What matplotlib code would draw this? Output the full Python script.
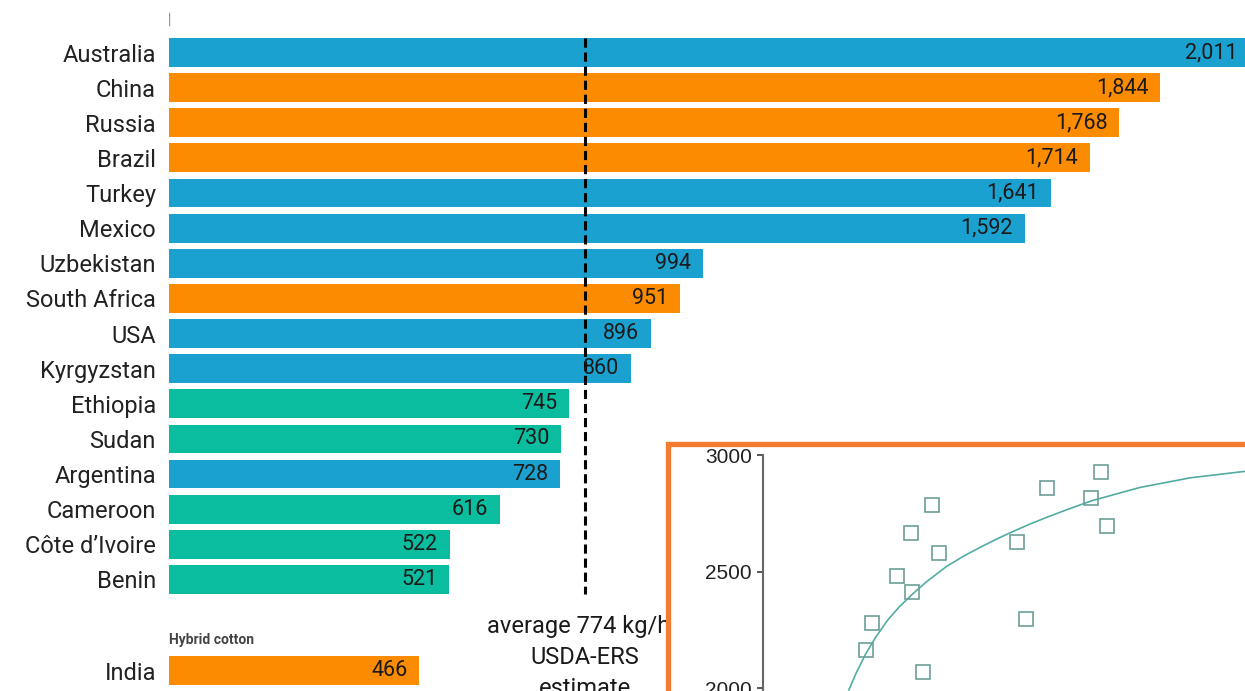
import matplotlib
matplotlib.use("Agg")
import matplotlib.pyplot as plt
from matplotlib.patches import Rectangle

# ---- Lint yield by country (kg/ha) ----
countries = ["Australia", "China", "Russia", "Brazil", "Turkey", "Mexico",
             "Uzbekistan", "South Africa", "USA", "Kyrgyzstan", "Ethiopia",
             "Sudan", "Argentina", "Cameroon", "Côte d’Ivoire", "Benin"]
yields = [2011, 1844, 1768, 1714, 1641, 1592, 994, 951, 896, 860,
          745, 730, 728, 616, 522, 521]
groups = ["blue", "orange", "orange", "orange", "blue", "blue",
          "blue", "orange", "blue", "blue", "teal",
          "teal", "blue", "teal", "teal", "teal"]

hybrid_title = "Hybrid cotton"
hybrid_country = "India"
hybrid_yield = 466
hybrid_group = "orange"

average_yield = 774
average_lines = ["average 774 kg/ha", "USDA-ERS", "estimate"]

# ---- Inset: yield response scatter with fitted curve ----
inset_x = [51.6, 54.4, 66.9, 74.0, 74.7, 80.0, 84.7, 88.2,
           126.9, 131.5, 142.2, 163.9, 169.0, 171.9]
inset_y = [2164, 2279, 2482, 2665, 2412, 2069, 2786, 2579,
           2626, 2297, 2857, 2815, 2928, 2696]
curve_x = [42.9, 46.5, 51.5, 56.5, 62.4, 68.2, 74.9, 81.5, 91.7, 100.2,
           108.5, 116.9, 125.2, 133.5, 141.9, 150.2, 158.5, 164.4, 188.5,
           213.5, 241.0]
curve_y = [1993, 2064, 2150, 2221, 2293, 2350, 2405, 2455, 2522, 2566,
           2604, 2640, 2673, 2704, 2733, 2760, 2786, 2804, 2861,
           2902, 2930]
inset_yticks = [2000, 2500, 3000]

palette = {"blue": "#1ba1cf", "orange": "#fb8b00", "teal": "#0abd9e"}

W, H = 1245, 691
fig = plt.figure(figsize=(W / 100, H / 100), dpi=100)
fig.patch.set_facecolor("white")

# main bar axes (pixel geometry -> figure fractions)
left_px, right_px = 169, 1260
px_per_unit = 0.5374
row0_px, row_step_px = 52.5, 35.13
ax = fig.add_axes([left_px / W, 0, (right_px - left_px) / W, 1])
ax.set_xlim(0, (right_px - left_px) / px_per_unit)
ax.set_ylim((H - row0_px) / row_step_px, -row0_px / row_step_px)

rows = list(range(len(countries)))
india_row = 17.6
bar_h = 0.82

ax.barh(rows, yields, height=bar_h, color=[palette[g] for g in groups], zorder=2)
ax.barh([india_row], [hybrid_yield], height=bar_h, color=palette[hybrid_group], zorder=2)

label_font = "Roboto"
for r, v in zip(rows + [india_row], yields + [hybrid_yield]):
    ax.annotate(f"{v:,}", xy=(v, r), xytext=(-8.5, 0), textcoords="offset points",
                ha="right", va="center", fontsize=15.5, family=label_font,
                color="#1a1a1a", zorder=4)

ax.set_yticks(rows + [india_row], countries + [hybrid_country])
ax.tick_params(axis="y", length=0, pad=9.4, labelsize=17, labelcolor="#222222")
for t in ax.get_yticklabels():
    t.set_fontfamily(label_font)
ax.set_xticks([])
for s in ax.spines.values():
    s.set_visible(False)

# small axis mark above the first bar
ax.axvline(0, ymin=0.964, ymax=0.981, color="#9a9a9a", lw=1.0, zorder=3)

ax.text(0, 16.72, hybrid_title, fontsize=10, fontweight="bold", family=label_font,
        color="#444444", ha="left", va="center")

# average reference line
ax.vlines(average_yield, -0.42, len(countries) - 1 + 0.42, colors="black",
          linestyles=(0, (3, 1.6)), lw=2.2, zorder=3)
for k, line in enumerate(average_lines):
    ax.text(average_yield, 16.33 + 0.88 * k, line, ha="center", va="center",
            fontsize=17, family=label_font, color="#1a1a1a")

# white framed panel for the inset
frame = Rectangle((668 / W, 1 - 700 / H), (1280 - 668) / W, (700 - 444) / H,
                  transform=fig.transFigure, facecolor="white",
                  edgecolor="#f47c30", lw=3.8, zorder=5)
fig.add_artist(frame)

# inset scatter axes: 3000 at y=455 px, 116.67 px per 500
y_top_px = 455
px_per_val = 116.67 / 500
ylo, yhi = 1000, 3000
ax_h_px = (yhi - ylo) * px_per_val
ax_left_px = 763
ax_w_px = 540
ins = fig.add_axes([ax_left_px / W, 1 - (y_top_px + ax_h_px) / H,
                    ax_w_px / W, ax_h_px / H], zorder=6)
ins.set_facecolor("none")
ins.set_xlim(0, ax_w_px / 2)
ins.set_ylim(ylo, yhi)
ins.plot(curve_x, curve_y, color="#52aca2", lw=1.2, zorder=2,
         solid_joinstyle="round")
ins.plot(inset_x, inset_y, linestyle="none", marker="s", markersize=9.5,
         markerfacecolor="none", markeredgecolor="#6c9f98", markeredgewidth=1.2,
         zorder=3)
ins.set_yticks(inset_yticks)
ins.tick_params(axis="y", length=4, width=1.4, color="#555555", pad=4,
                labelsize=15, labelcolor="#222222")
for t in ins.get_yticklabels():
    t.set_fontfamily("Liberation Sans")
ins.set_xticks([])
for side in ("top", "right", "bottom"):
    ins.spines[side].set_visible(False)
ins.spines["left"].set_color("#666666")
ins.spines["left"].set_linewidth(1.5)

fig.savefig("out.png", dpi=100)
